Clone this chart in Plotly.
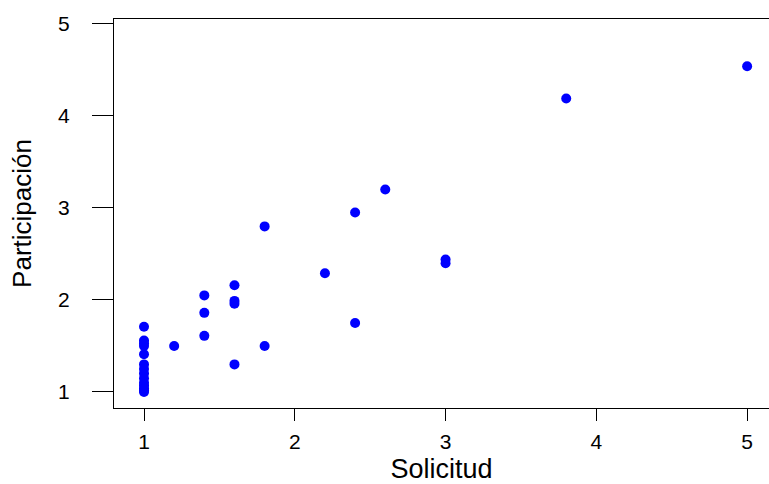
import plotly.graph_objects as go

solicitud = [5.0, 3.8, 2.6, 2.4, 1.8, 3.0, 3.0, 2.2, 1.6, 1.6, 1.6, 1.4, 1.4, 1.4,
             1.6, 1.8, 2.4, 1.2,
             1.0, 1.0, 1.0, 1.0, 1.0, 1.0, 1.0, 1.0, 1.0, 1.0, 1.0, 1.0, 1.0, 1.0]
participacion = [4.54, 4.19, 3.2, 2.95, 2.8, 2.44, 2.40, 2.29, 2.16, 1.99, 1.96, 2.05, 1.86, 1.61,
                 1.30, 1.50, 1.75, 1.50,
                 1.71, 1.56, 1.53, 1.50, 1.41, 1.30, 1.25, 1.20, 1.15, 1.10, 1.07, 1.04, 1.02, 1.00]

x_ticks = [1, 2, 3, 4, 5]
y_ticks = [1, 2, 3, 4, 5]

fig = go.Figure()
fig.add_trace(go.Scatter(
    x=solicitud, y=participacion, mode="markers",
    marker=dict(color="#0000FF", size=10, line=dict(width=0)),
    showlegend=False,
))

font_family = "Liberation Sans, Arial, sans-serif"

fig.update_layout(
    width=769, height=484,
    margin=dict(l=114, r=0, t=19, b=76),
    paper_bgcolor="white", plot_bgcolor="white",
    font=dict(family=font_family, color="black"),
    xaxis=dict(
        range=[0.801, 5.145],
        tickvals=x_ticks, ticktext=[str(v) for v in x_ticks],
        ticks="outside", ticklen=12, tickwidth=1, tickcolor="black",
        showline=True, linecolor="black", linewidth=1, mirror=True,
        showgrid=False, zeroline=False,
        tickfont=dict(size=21),
        ticklabelstandoff=3,
        title=dict(text="Solicitud", font=dict(size=27), standoff=9),
    ),
    yaxis=dict(
        range=[0.826, 5.054],
        tickvals=y_ticks, ticktext=[str(v) for v in y_ticks],
        ticks="outside", ticklen=21, tickwidth=1, tickcolor="black",
        showline=True, linecolor="black", linewidth=1, mirror=False,
        showgrid=False, zeroline=False,
        tickfont=dict(size=21),
        ticklabelstandoff=18,
        title=dict(text="Participación", font=dict(size=26), standoff=19),
    ),
)

fig.write_html("out.html")
